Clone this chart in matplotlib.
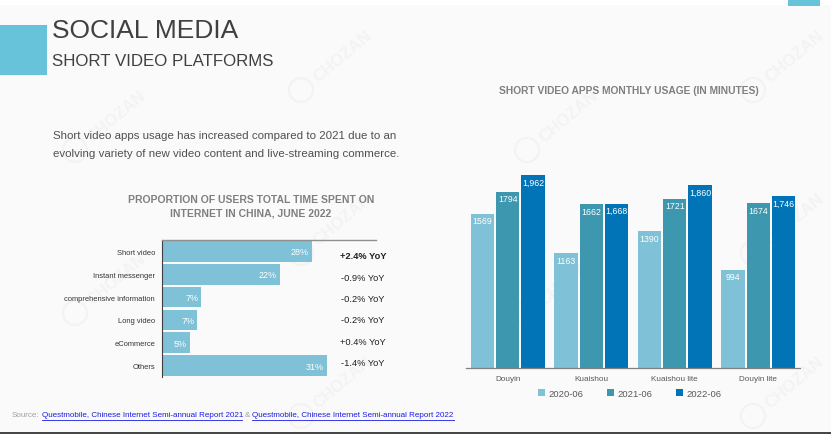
import matplotlib
matplotlib.use("Agg")
import matplotlib.pyplot as plt
from matplotlib.patches import Rectangle, Circle
import numpy as np

plt.rcParams['font.family'] = ['Liberation Sans', 'DejaVu Sans']

# Left chart data
share_categories = ["Short video", "Instant messenger", "comprehensive information",
                    "Long video", "eCommerce", "Others"]
share_values = [28, 22, 7.3, 6.6, 5.2, 30.8]
share_labels = ["28%", "22%", "7%", "7%", "5%", "31%"]
yoy_labels = ["+2.4% YoY", "-0.9% YoY", "-0.2% YoY", "-0.2% YoY", "+0.4% YoY", "-1.4% YoY"]

# Right chart data
apps = ["Douyin", "Kuaishou", "Kuaishou lite", "Douyin lite"]
periods = ["2020-06", "2021-06", "2022-06"]
usage_2020 = [1569, 1163, 1390, 994]
usage_2021 = [1794, 1662, 1721, 1674]
usage_2022 = [1962, 1668, 1860, 1746]
usage_labels_2020 = ["1569", "1163", "1390", "994"]
usage_labels_2021 = ["1794", "1662", "1721", "1674"]
usage_labels_2022 = ["1,962", "1,668", "1,860", "1,746"]

C_LIGHT, C_MID, C_DARK = "#7FC1D6", "#3D97AE", "#0174B8"
W, H = 831, 435
fig = plt.figure(figsize=(W / 100, H / 100), dpi=100, facecolor="white")


def px_axes(left, top, right, bottom, **kw):
    return fig.add_axes([left / W, 1 - bottom / H, (right - left) / W, (bottom - top) / H], **kw)


# Page background layer in pixel coordinates
bg = px_axes(0, 0, W, H)
bg.set_xlim(0, W)
bg.set_ylim(H, 0)
bg.axis("off")
bg.add_patch(Rectangle((0, 6), W, 427, fc="#FAFAFA", ec="none", zorder=0))
bg.add_patch(Rectangle((788, 0), 32, 6.5, fc="#67C3DA", ec="none", zorder=2))
bg.add_patch(Rectangle((0, 26), 46.5, 49.5, fc="#67C3DA", ec="none", zorder=2))
bg.plot([0, W], [434, 434], color="#222222", lw=1.2, zorder=2)

# Watermarks
for wx, wy in [(117, 117), (343, 57), (569, 117), (795, 57),
               (117, 280), (343, 220), (569, 280), (795, 220),
               (343, 383), (795, 383)]:
    bg.text(wx, wy, "CHOZAN", rotation=40, fontsize=12, fontweight="bold",
            color="#F3F3F3", ha="center", va="center", zorder=0.5)
    bg.add_patch(Circle((wx - 42, wy + 34), 12, fc="none", ec="#F3F3F3", lw=1.6, zorder=0.5))

bg.text(52, 31, "SOCIAL MEDIA", fontsize=19, color="#404040", va="center", zorder=3)
bg.text(52, 62, "SHORT VIDEO PLATFORMS", fontsize=12.2, color="#404040", va="center", zorder=3)
bg.text(53, 136.5, "Short video apps usage has increased compared to 2021 due to an",
        fontsize=8.25, color="#505050", va="center", zorder=3)
bg.text(53, 154.5, "evolving variety of new video content and live-streaming commerce.",
        fontsize=8.25, color="#505050", va="center", zorder=3)
bg.text(251, 207, "PROPORTION OF USERS TOTAL TIME SPENT ON\nINTERNET IN CHINA, JUNE 2022",
        fontsize=7.45, fontweight="bold", color="#7F7F7F", ha="center", va="center",
        linespacing=1.45, zorder=3)
bg.text(629, 91, "SHORT VIDEO APPS MONTHLY USAGE (IN MINUTES)", fontsize=7.4,
        fontweight="bold", color="#7F7F7F", ha="center", va="center", zorder=3)

# Source line
bg.text(12, 416, "Source:", fontsize=5.75, color="#A0A0A0", va="center", zorder=3)
bg.text(42, 416, "Questmobile, Chinese Internet Semi-annual Report 2021", fontsize=5.75,
        color="#1A1AE6", va="center", zorder=3)
bg.plot([42, 242], [420.5, 420.5], color="#1A1AE6", lw=0.6, zorder=3)
bg.text(245, 416, "&", fontsize=5.75, color="#A0A0A0", va="center", zorder=3)
bg.text(252, 416, "Questmobile, Chinese Internet Semi-annual Report 2022", fontsize=5.75,
        color="#1A1AE6", va="center", zorder=3)
bg.plot([252, 454], [420.5, 420.5], color="#1A1AE6", lw=0.6, zorder=3)

# Left horizontal bar chart
axl = px_axes(162, 241, 376, 378)
axl.patch.set_alpha(0)
y = np.arange(len(share_categories))
axl.barh(y, share_values, height=0.9, color=C_LIGHT, edgecolor="none")
axl.set_xlim(0, 40)
axl.set_ylim(5.5, -0.5)
axl.set_yticks(y, share_categories, fontsize=5.4, color="#333333")
axl.set_xticks([])
axl.tick_params(axis="y", length=0, pad=5)
for s in ("right", "bottom"):
    axl.spines[s].set_visible(False)
axl.spines["left"].set_color("#404040")
axl.spines["left"].set_linewidth(0.8)
axl.spines["top"].set_color("#909090")
axl.spines["top"].set_linewidth(1.0)
for yi, v, lab in zip(y, share_values, share_labels):
    axl.text(v - 0.5, yi + 0.02, lab, color="white", fontsize=6.5, ha="right", va="center")
for i, lab in enumerate(yoy_labels):
    bg.text(340 + (0 if lab[0] == "+" else 1), 257 + i * 21.3, lab, fontsize=6.7,
            color="#202020", va="center", fontweight="bold" if i == 0 else "normal", zorder=3)

# Right grouped bar chart
axr = px_axes(466, 172, 800, 368.5)
axr.patch.set_alpha(0)
x = np.arange(len(apps))
series = [(usage_2020, usage_labels_2020, C_LIGHT),
          (usage_2021, usage_labels_2021, C_MID),
          (usage_2022, usage_labels_2022, C_DARK)]
bw, step = 0.278, 0.303
for k, (vals, labs, col) in enumerate(series):
    offs = x + (k - 1) * step
    axr.bar(offs, vals, width=bw, color=col, edgecolor="none", label=periods[k])
    for xi, v, lab in zip(offs, vals, labs):
        axr.text(xi, v - 70, lab, color="white", fontsize=6.3, ha="center", va="center")
axr.set_xlim(-0.5, 3.5)
axr.set_ylim(0, 2003)
axr.set_yticks([])
axr.set_xticks(x, apps, fontsize=5.9, color="#595959")
axr.tick_params(axis="x", length=0, pad=5.5)
for s in ("left", "right", "top"):
    axr.spines[s].set_visible(False)
axr.spines["bottom"].set_color("#808080")
axr.spines["bottom"].set_linewidth(0.9)
axr.legend(loc="center", bbox_to_anchor=(0.49, -0.13), ncol=3,
           frameon=False, fontsize=6.8, labelcolor="#595959", handlelength=0.7, handleheight=0.7,
           handletextpad=0.35, columnspacing=2.55, borderpad=0, borderaxespad=0)

fig.savefig("out.png", dpi=100, facecolor="white")
